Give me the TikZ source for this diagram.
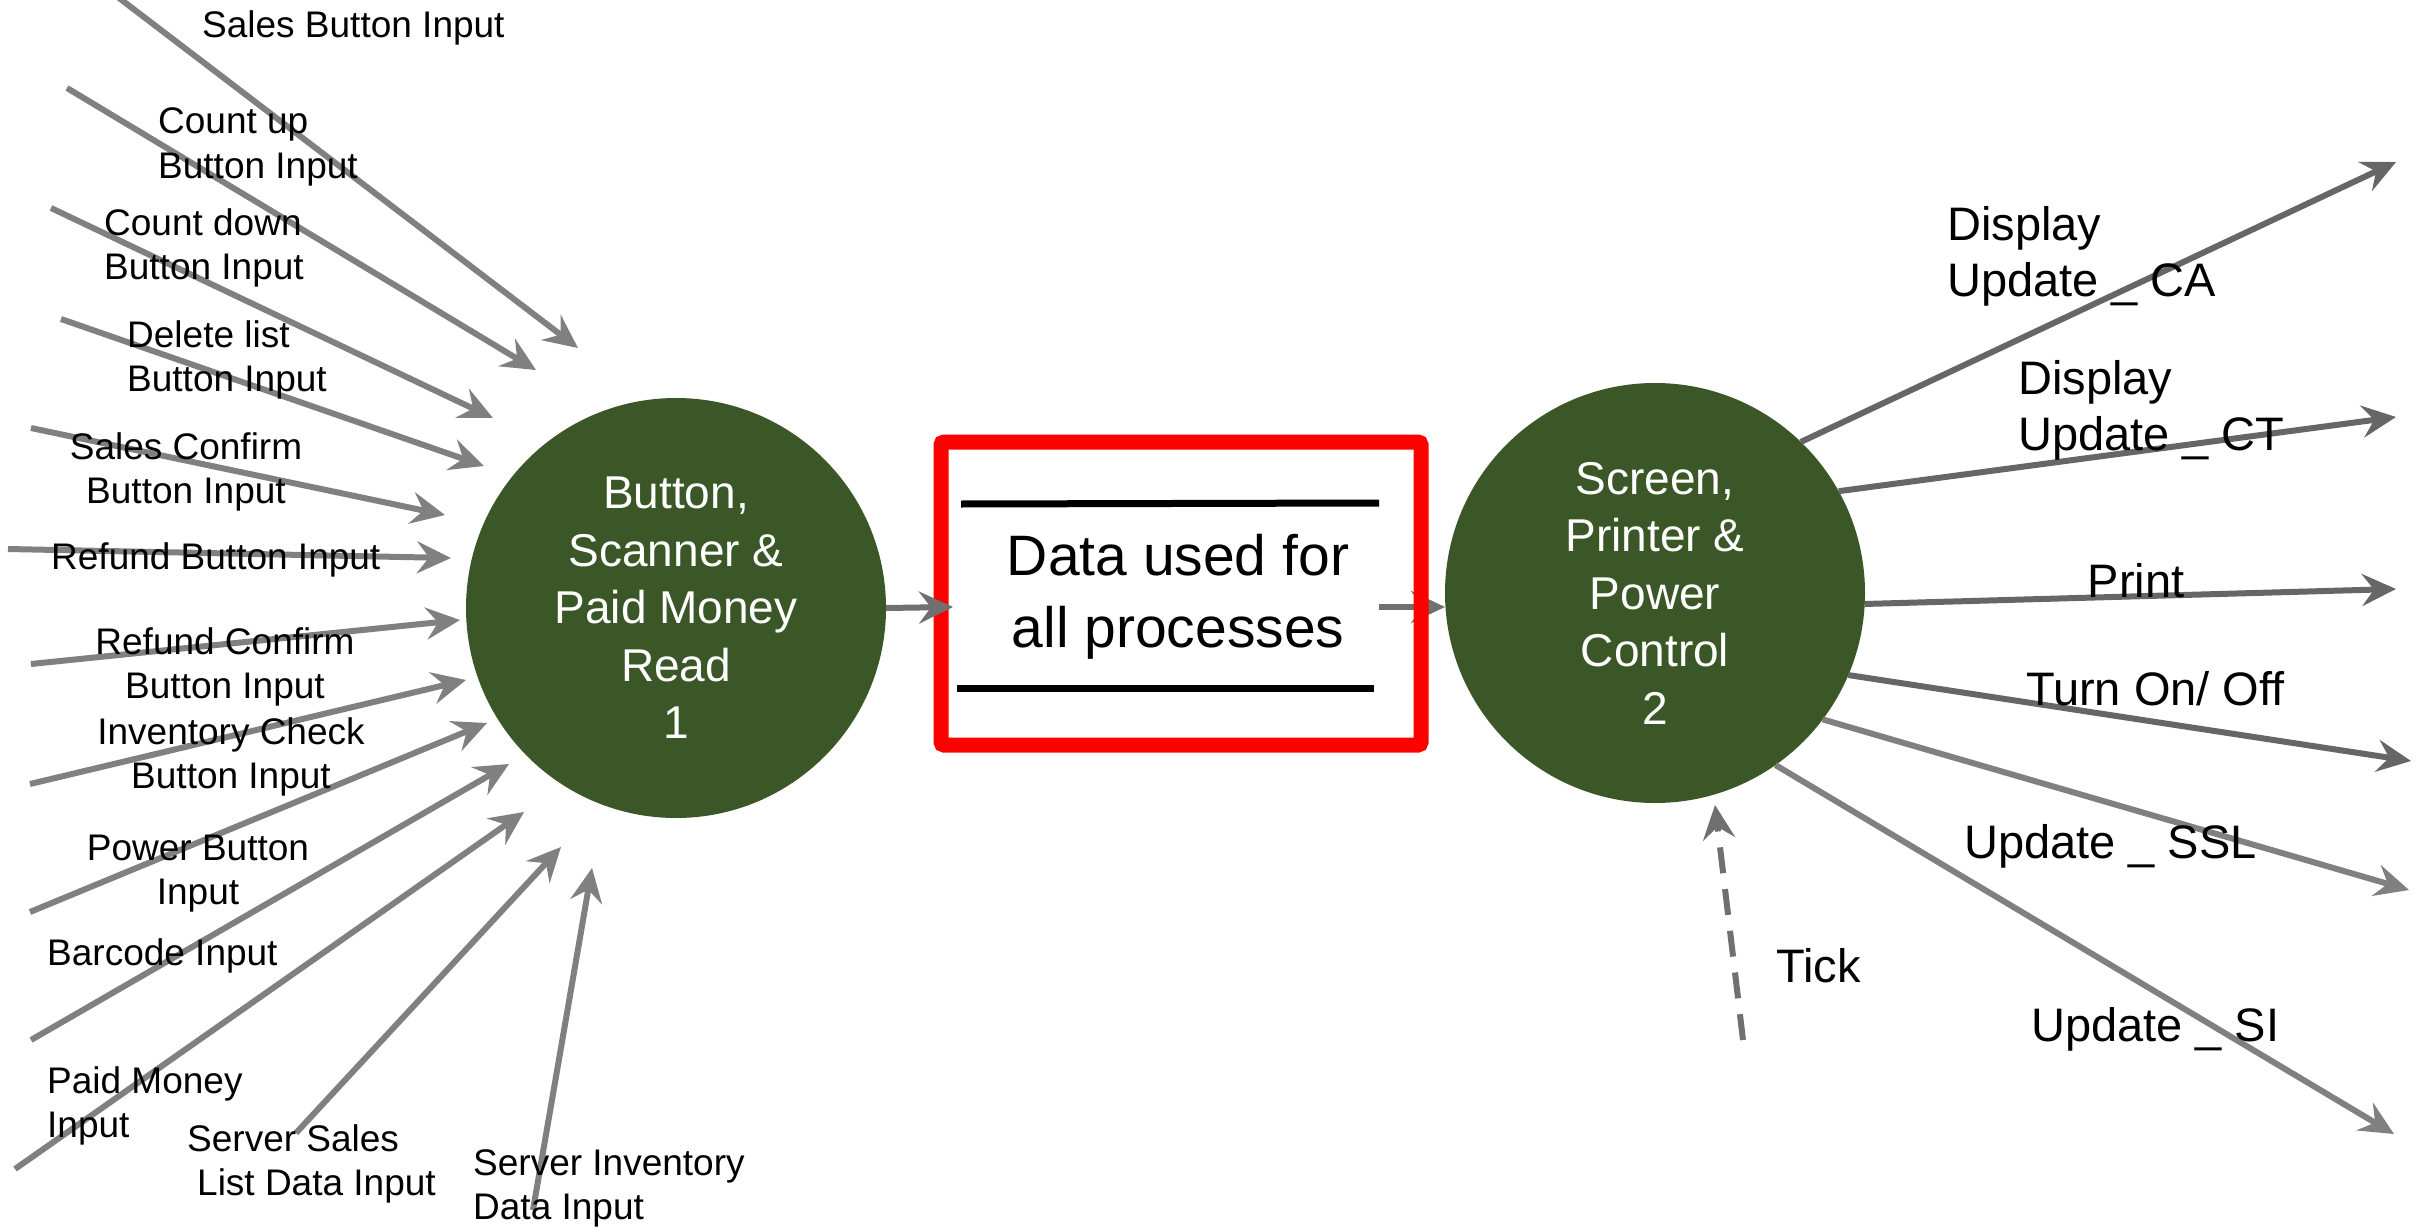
\documentclass[tikz,border=0pt]{standalone}
\usepackage{fontspec}
\setmainfont{Liberation Sans}
\usetikzlibrary{arrows.meta}
\definecolor{procgreen}{HTML}{3B5727}
\definecolor{flowgray}{HTML}{808080}
\definecolor{flowdark}{HTML}{666666}
\definecolor{midgray}{HTML}{707070}

\begin{document}
\begin{tikzpicture}[x=1pt,y=-1pt,
  tipshape/.style={-{Stealth[length=34pt,width=32pt,inset=12pt]}},
  inflow/.style={draw=flowgray, line width=6pt, tipshape},
  outflow/.style={draw=flowdark, line width=6pt, tipshape},
  outlight/.style={draw=flowgray, line width=6pt, tipshape},
  midflow/.style={draw=midgray, line width=6pt, tipshape},
  process/.style={circle, fill=procgreen, minimum size=420pt, inner sep=0pt, outer sep=0pt,
    text=white, align=center, font=\fontsize{46}{57.5}\selectfont},
  inlbl/.style={inner sep=0pt, font=\fontsize{37}{44}\selectfont},
  outlbl/.style={inner sep=0pt, font=\fontsize{47}{56}\selectfont},
]
\path[use as bounding box, fill=white] (0,0) rectangle (2425,1228);

% processes
\node[process] (p1) at (676,608) {Button,\\Scanner \&\\Paid Money\\Read\\1};
\node[process] (p2) at (1655,593) {Screen,\\Printer \&\\Power\\Control\\2};

% data store link points
\coordinate (sin) at (953,607);
\coordinate (sout) at (1379,607);

% store to process 2 (under the store border)
\draw[midflow] (sout) -- (p2.west |- sout);

% data store
\node[draw=red, line width=15pt, rounded corners=3pt, minimum width=480pt, minimum height=303pt,
  inner sep=0pt, outer sep=0pt] (store) at (1181,593.5) {};
\node[inner sep=0pt, align=center, font=\fontsize{57}{72}\selectfont, anchor=base]
  (storetext) at (1178,647) {Data used for\\all processes};
\draw[line width=7pt] (961,504) -- (1379,503);
\draw[line width=7pt] (957,688) -- (1374,688);

% process 1 to store
\draw[midflow] (p1.east) -- (sin);

% incoming flows
\coordinate (a1) at (119,-2);   \coordinate (b1) at (578,348);
\coordinate (a2) at (67,88);    \coordinate (b2) at (536,370);
\coordinate (a3) at (51,208);   \coordinate (b3) at (493,418);
\coordinate (a4) at (61,319);   \coordinate (b4) at (484,466);
\coordinate (a5) at (31,428);   \coordinate (b5) at (445,515);
\coordinate (a6) at (8,549);    \coordinate (b6) at (451,558);
\coordinate (a7) at (31,664);   \coordinate (b7) at (460,620);
\coordinate (a8) at (30,784);   \coordinate (b8) at (466,680);
\coordinate (a9) at (30,912);   \coordinate (b9) at (487,723);
\coordinate (a10) at (31,1040); \coordinate (b10) at (509,764);
\coordinate (a11) at (15,1169); \coordinate (b11) at (524,812);
\coordinate (a12) at (296,1133);\coordinate (b12) at (561,847);
\coordinate (a13) at (533,1210);\coordinate (b13) at (592,868);
\foreach \i in {1,...,13} { \draw[inflow] (a\i) -- (b\i); }

% incoming labels (multi-line labels are placed by their last baseline)
\node[inlbl, anchor=base west] (l1) at (202,38) {Sales Button Input};
\node[inlbl, anchor=base west, align=left] (l2) at (158,178) {Count up\\Button Input};
\node[inlbl, anchor=base west, align=left] (l3) at (104,279) {Count down\\Button Input};
\node[inlbl, anchor=base west, align=left] (l4) at (127,391) {Delete list\\Button Input};
\node[inlbl, anchor=base, align=center] (l5) at (186,503) {Sales Confirm\\Button Input};
\node[inlbl, anchor=base west] (l6) at (51,569) {Refund Button Input};
\node[inlbl, anchor=base, align=center] (l7) at (225,698) {Refund Confirm\\Button Input};
\node[inlbl, anchor=base, align=center] (l8) at (231,788) {Inventory Check\\Button Input};
\node[inlbl, anchor=base, align=center] (l9) at (198,904) {Power Button\\Input};
\node[inlbl, anchor=base west] (l10) at (47,965) {Barcode Input};
\node[inlbl, anchor=base west, align=left] (l11) at (47,1137) {Paid Money\\Input};
\node[inlbl, anchor=base west, align=left] (l12) at (187,1195) {Server Sales\\\hspace*{10pt}List Data Input};
\node[inlbl, anchor=base west, align=left] (l13) at (473,1219) {Server Inventory\\Data Input};

% outgoing flows
\coordinate (o1) at (2396,162);
\coordinate (o2) at (2396,417);
\coordinate (o3) at (2396,589);
\coordinate (o4) at (2411,761);
\coordinate (o5) at (2409,890);
\coordinate (o6) at (2394,1134);
\draw[outflow] (p2.46) -- (o1);
\draw[outflow] (p2.29) -- (o2);
\draw[outflow] (p2.-3) -- (o3);
\draw[outflow] (p2.-23) -- (o4);
\draw[outlight] (p2.-37) -- (o5);
\draw[outlight] (p2.-55) -- (o6);

% clock tick
\coordinate (tk) at (1743,1040);
\coordinate (tkend) at (1715,805);
\draw[midflow, dash pattern=on 26pt off 16pt] (tk) -- (tkend);

% outgoing labels
\node[outlbl, anchor=base west, align=left] (r1) at (1947,296) {Display\\Update \_ CA};
\node[outlbl, anchor=base west, align=left] (r2) at (2018,450) {Display\\Update \_ CT};
\node[outlbl, anchor=base] (r3) at (2136,597) {Print};
\node[outlbl, anchor=base west] (r4) at (2026,705) {Turn On/ Off};
\node[outlbl, anchor=base west] (r5) at (1964,858) {Update \_ SSL};
\node[outlbl, anchor=base west] (r6) at (2031,1041) {Update \_ SI};
\node[outlbl, anchor=base west] (tick) at (1776,982) {Tick};
\end{tikzpicture}
\end{document}
